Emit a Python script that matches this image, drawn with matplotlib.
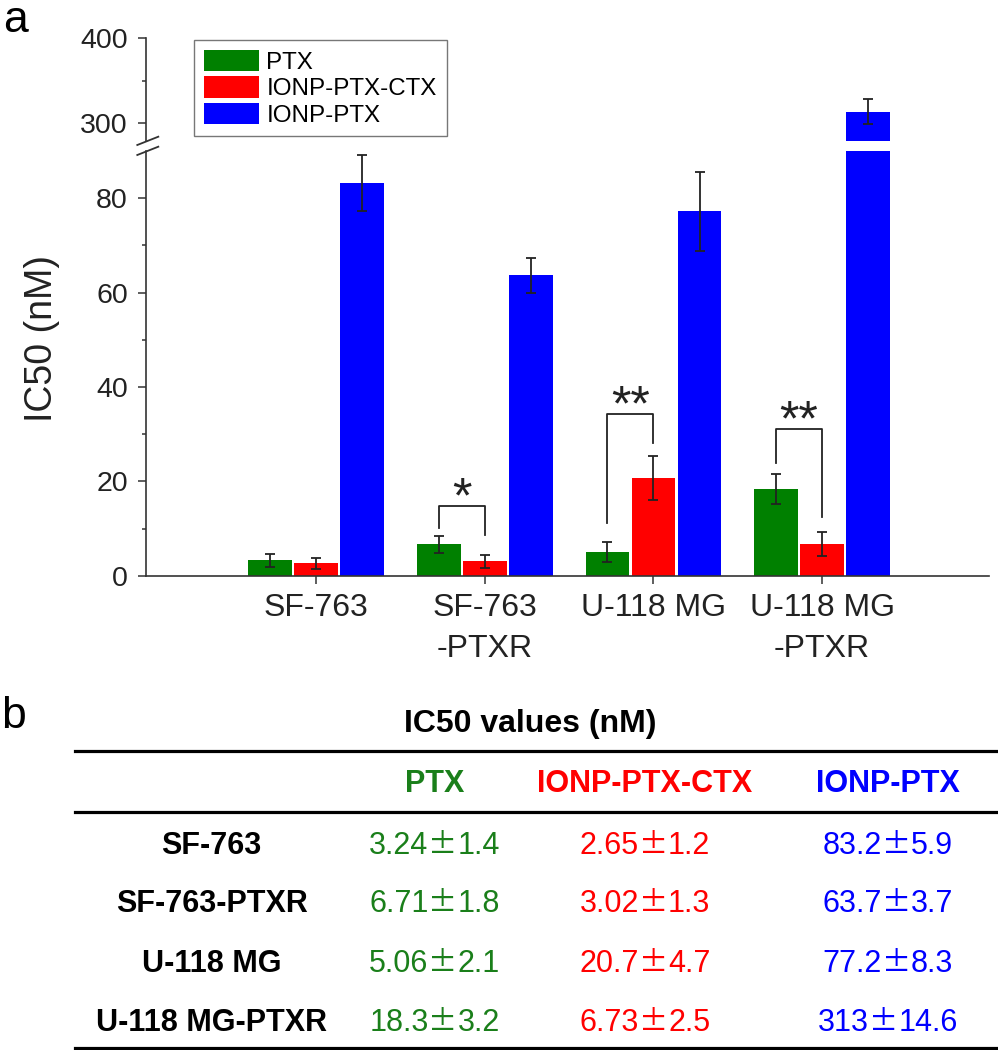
import numpy as np
import matplotlib
matplotlib.use('Agg')
import matplotlib.pyplot as plt
from matplotlib.lines import Line2D

plt.rcParams['font.family'] = ['Liberation Sans', 'DejaVu Sans']

# ====================== DATA ======================
cell_ticks = ['SF-763', 'SF-763\n-PTXR', 'U-118 MG', 'U-118 MG\n-PTXR']
row_names = ['SF-763', 'SF-763-PTXR', 'U-118 MG', 'U-118 MG-PTXR']
groups = ['PTX', 'IONP-PTX-CTX', 'IONP-PTX']

ptx = [3.24, 6.71, 5.06, 18.3]
ptx_err = [1.4, 1.8, 2.1, 3.2]
ctx = [2.65, 3.02, 20.7, 6.73]
ctx_err = [1.2, 1.3, 4.7, 2.5]
ionp = [83.2, 63.7, 77.2, 313]
ionp_err = [5.9, 3.7, 8.3, 14.6]

# significance brackets (PTX vs IONP-PTX-CTX)
sig_cell = [1, 2, 3]
sig_top = [14.8, 34.3, 31.1]
sig_left = [10.1, 11.2, 23.9]
sig_right = [8.6, 28.1, 12.5]
sig_text = ['*', '**', '**']

bar_colors = ['#008000', '#ff0000', '#0000ff']
table_colors = ['#1a7f1a', '#ff0000', '#0000ff']

# ====================== LAYOUT HELPERS ======================
W, H = 998, 1050
def fx(px):
    return px / W
def fy(py):
    return 1 - py / H

fig = plt.figure(figsize=(9.98, 10.5), dpi=100)
ax_top = fig.add_axes([fx(146), fy(141), fx(989) - fx(146), fy(38.5) - fy(141)])
ax_bot = fig.add_axes([fx(146), fy(575.7), fx(989) - fx(146), fy(151) - fy(575.7)])

x = np.arange(1, len(cell_ticks) + 1)
offsets = [-0.273, 0.0, 0.273]
width = 0.26
series = [(ptx, ptx_err), (ctx, ctx_err), (ionp, ionp_err)]
ink = '#222222'

handles = []
for ax in (ax_top, ax_bot):
    for (vals, errs), off, col, name in zip(series, offsets, bar_colors, groups):
        b = ax.bar(x + off, vals, width, color=col, linewidth=0, zorder=2)
        ax.errorbar(x + off, vals, yerr=errs, fmt='none', ecolor=ink,
                    elinewidth=1.3, capsize=3.5, capthick=1.3, zorder=3)
        if ax is ax_top:
            handles.append((b, name))
    ax.set_xlim(-0.01, 4.99)
    ax.spines['top'].set_visible(False)
    ax.spines['right'].set_visible(False)
    ax.spines['left'].set_linewidth(1.2)
    ax.spines['left'].set_color('#333333')
    ax.tick_params(axis='y', which='major', direction='out', length=6, width=1.1,
                   color='#333333', labelsize=20.5, labelcolor=ink, pad=7)
    ax.tick_params(axis='y', which='minor', direction='out', length=3, width=1.1,
                   color='#333333')

# upper part of the broken axis
ax_top.set_ylim(278, 400)
ax_top.set_yticks([300, 400])
ax_top.set_yticks([350], minor=True)
ax_top.spines['bottom'].set_visible(False)
ax_top.set_xticks([])

# lower part
ax_bot.set_ylim(0, 90)
ax_bot.set_yticks([0, 20, 40, 60, 80])
ax_bot.set_yticks([10, 30, 50, 70], minor=True)
ax_bot.spines['bottom'].set_linewidth(1.2)
ax_bot.spines['bottom'].set_color('#333333')
ax_bot.set_xticks(x, cell_ticks)
ax_bot.tick_params(axis='x', direction='out', length=6, width=1.1, color='#333333',
                   labelsize=23, labelcolor=ink, pad=6.5)
for lab in ax_bot.get_xticklabels():
    lab.set_linespacing(1.48)

# break marks on the y axis
for dy in (0, 10):
    fig.add_artist(Line2D([fx(137.3), fx(158.3)], [fy(145 + dy), fy(136.7 + dy)],
                          color='#333333', lw=1.3))

# significance brackets
for c, top, yl, yr, txt in zip(sig_cell, sig_top, sig_left, sig_right, sig_text):
    xa = x[c] + offsets[0]
    xb = x[c] + offsets[1]
    ax_bot.plot([xa, xa, xb, xb], [yl, top, top, yr], color=ink, lw=1.3, zorder=4)
    ax_bot.annotate(txt, xy=((xa + xb) / 2, top), xytext=(0, -5),
                    textcoords='offset points', ha='center', va='baseline',
                    fontsize=36, color=ink)

leg = ax_top.legend([h for h, _ in handles], [n for _, n in handles],
                    loc='upper left', bbox_to_anchor=(fx(194), fy(40)),
                    bbox_transform=fig.transFigure, fontsize=17.4, frameon=True,
                    fancybox=False, edgecolor='#555555', handlelength=2.3,
                    handleheight=1.0, handletextpad=0.3, labelspacing=0.1,
                    borderpad=0.4, borderaxespad=0)
leg.get_frame().set_linewidth(1.0)

fig.text(fx(42), fy(338), 'IC50 (nM)', rotation=90, ha='center', va='center',
         fontsize=27, color=ink)
fig.text(fx(3), fy(32), 'a', fontsize=32, va='baseline', ha='left')
fig.text(fx(1), fy(728), 'b', fontsize=32, va='baseline', ha='left')

# ====================== TABLE ======================
for ly in (750.5, 811.7, 1047.7):
    fig.add_artist(Line2D([fx(74.5), fx(998)], [fy(ly), fy(ly)], color='black', lw=2.3))

fig.text(fx(530), fy(732), 'IC50 values (nM)', fontsize=23, weight='bold',
         ha='center', va='baseline')

col_x = [434.5, 645, 888]
label_x = 211.6
row_y = [854, 912, 972, 1031]

for cx, name, col in zip(col_x, groups, table_colors):
    fig.text(fx(cx), fy(792), name, fontsize=22, weight='bold', color=col,
             ha='center', va='baseline')

renderer = fig.canvas.get_renderer()
for i, ry in enumerate(row_y):
    fig.text(fx(label_x), fy(ry), row_names[i], fontsize=22, weight='bold',
             ha='center', va='baseline')
    for (vals, errs), cx, col in zip(series, col_x, table_colors):
        # mean, wide plus-minus sign, error: laid out side by side, centred on the column
        parts = [fig.text(0, fy(ry), str(vals[i]), fontsize=22, color=col, va='baseline'),
                 fig.text(0, fy(ry), '±', fontsize=21, color=col, va='baseline',
                          family=['Noto Sans CJK SC', 'DejaVu Sans']),
                 fig.text(0, fy(ry), str(errs[i]), fontsize=22, color=col, va='baseline')]
        widths = [p.get_window_extent(renderer).width for p in parts]
        left = cx - sum(widths) / 2
        for p, w in zip(parts, widths):
            p.set_x(fx(left))
            left += w

fig.savefig('out.png', dpi=100)
